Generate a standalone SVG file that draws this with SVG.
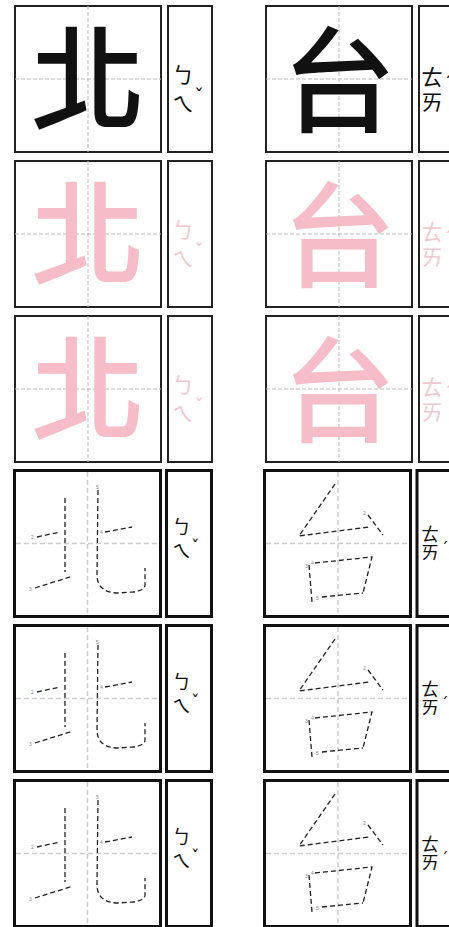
<svg xmlns="http://www.w3.org/2000/svg" xmlns:xlink="http://www.w3.org/1999/xlink" width="449" height="927" viewBox="0 0 449 927">
<style>
.bg{fill:#fff}
.box{fill:#fff;stroke:#222;stroke-width:2}
.box3{fill:#fff;stroke:#111;stroke-width:3}
.guide{stroke:#bbb;stroke-width:1;stroke-dasharray:4 2;fill:none}
.guide3{stroke:#ccc;stroke-width:1.5;stroke-dasharray:5 3;fill:none}
.han{font-family:"Noto Sans CJK TC","Noto Sans CJK SC",sans-serif;font-weight:500;font-size:114px;text-anchor:middle}
.zy{font-family:"Noto Sans CJK TC","Noto Sans CJK SC",sans-serif;font-size:22px}
.zy3{font-family:"Noto Sans CJK TC","Noto Sans CJK SC",sans-serif;font-size:19px}
.zy3t{font-family:"Noto Sans CJK TC","Noto Sans CJK SC",sans-serif;font-size:18px}
.tone{font-family:"DejaVu Sans",sans-serif;font-size:20px}
.tone3{font-family:"DejaVu Sans",sans-serif;font-size:17px}
.tone3t{font-family:"DejaVu Sans",sans-serif;font-size:15px}
.black{fill:#111}
.pink{fill:#f6bdc8}
.pinkzy{fill:#efc9d0}
.trace{fill:none;stroke:#222;stroke-width:1.3;stroke-dasharray:5 3}
.num{font-family:"Liberation Sans",sans-serif;font-size:5px;fill:#888}
</style>
<defs>
<g id="beiTrace">
<path class="trace" d="M65,27 V101"/>
<path class="trace" d="M37,66 L60,61"/>
<path class="trace" d="M35,117 L73,105"/>
<path class="trace" d="M105,61 L132,56"/>
<path class="trace" d="M98,19 L97,104 C97,116 105,122 118,122 L133,121 C142,120 145,117 145,114 L145,97"/>
<text class="num" x="31" y="68">2</text>
<text class="num" x="29" y="120">3</text>
<text class="num" x="100" y="63">4</text>
<text class="num" x="96" y="18">5</text>
</g>
<g id="taiTrace">
<path class="trace" d="M335,13 L299,65 L369,56"/>
<path class="trace" d="M368,44 L383,64"/>
<path class="trace" d="M309,94 L312,131"/>
<path class="trace" d="M315,92 L372,86 L363,122"/>
<path class="trace" d="M322,126 L363,122"/>
<text class="num" x="363" y="44">2</text>
<text class="num" x="305" y="97">3</text>
<text class="num" x="311" y="94">4</text>
<text class="num" x="316" y="129">5</text>
</g>
</defs>
<rect class="bg" x="0" y="0" width="449" height="927"/>

<g id="row1" transform="translate(0,6)">
<g id="r1-bei">
<rect class="box" x="15" y="0" width="146" height="146"/>
<path class="guide" d="M88,0 V146 M15,73 H161"/>
<text class="han black" x="88" y="115">北</text>
</g>
<g id="r1-bei-zy">
<rect class="box" x="168" y="0" width="44" height="146"/>
<text class="zy black" x="172" y="77">ㄅ</text>
<text class="zy black" x="172" y="106">ㄟ</text>
<text class="tone black" x="194" y="97">ˇ</text>
</g>
<g id="r1-tai">
<rect class="box" x="266" y="0" width="146" height="146"/>
<path class="guide" d="M339,0 V146 M266,73 H412"/>
<text class="han black" x="339" y="117">台</text>
</g>
<g id="r1-tai-zy">
<rect class="box" x="419" y="0" width="44" height="146"/>
<text class="zy black" x="421" y="79">ㄊ</text>
<text class="zy black" x="421" y="104">ㄞ</text>
<text class="tone black" x="443" y="84">ˊ</text>
</g>
</g>

<g id="row2" transform="translate(0,161)">
<g id="r2-bei">
<rect class="box" x="15" y="0" width="146" height="146"/>
<path class="guide" d="M88,0 V146 M15,73 H161"/>
<text class="han pink" x="88" y="115">北</text>
</g>
<g id="r2-bei-zy">
<rect class="box" x="168" y="0" width="44" height="146"/>
<text class="zy pinkzy" x="172" y="77">ㄅ</text>
<text class="zy pinkzy" x="172" y="106">ㄟ</text>
<text class="tone pinkzy" x="194" y="97">ˇ</text>
</g>
<g id="r2-tai">
<rect class="box" x="266" y="0" width="146" height="146"/>
<path class="guide" d="M339,0 V146 M266,73 H412"/>
<text class="han pink" x="339" y="117">台</text>
</g>
<g id="r2-tai-zy">
<rect class="box" x="419" y="0" width="44" height="146"/>
<text class="zy pinkzy" x="421" y="79">ㄊ</text>
<text class="zy pinkzy" x="421" y="104">ㄞ</text>
<text class="tone pinkzy" x="443" y="84">ˊ</text>
</g>
</g>

<g id="row3" transform="translate(0,316)">
<g id="r3-bei">
<rect class="box" x="15" y="0" width="146" height="146"/>
<path class="guide" d="M88,0 V146 M15,73 H161"/>
<text class="han pink" x="88" y="115">北</text>
</g>
<g id="r3-bei-zy">
<rect class="box" x="168" y="0" width="44" height="146"/>
<text class="zy pinkzy" x="172" y="77">ㄅ</text>
<text class="zy pinkzy" x="172" y="106">ㄟ</text>
<text class="tone pinkzy" x="194" y="97">ˇ</text>
</g>
<g id="r3-tai">
<rect class="box" x="266" y="0" width="146" height="146"/>
<path class="guide" d="M339,0 V146 M266,73 H412"/>
<text class="han pink" x="339" y="117">台</text>
</g>
<g id="r3-tai-zy">
<rect class="box" x="419" y="0" width="44" height="146"/>
<text class="zy pinkzy" x="421" y="79">ㄊ</text>
<text class="zy pinkzy" x="421" y="104">ㄞ</text>
<text class="tone pinkzy" x="443" y="84">ˊ</text>
</g>
</g>

<g id="row4" transform="translate(0,471)">
<g id="r4-bei">
<rect class="box3" x="14.5" y="-0.5" width="146" height="146"/>
<path class="guide3" d="M87.5,1 V144 M16,72.5 H159"/>
<use xlink:href="#beiTrace"/>
</g>
<g id="r4-bei-zy">
<rect class="box3" x="166.5" y="-0.5" width="45" height="146"/>
<text class="zy3 black" x="172" y="63">ㄅ</text>
<text class="zy3 black" x="172" y="87">ㄟ</text>
<text class="tone3 black" x="191" y="82">ˇ</text>
</g>
<g id="r4-tai">
<rect class="box3" x="264.5" y="-0.5" width="146" height="146"/>
<path class="guide3" d="M338,1 V144 M266,72.5 H409"/>
<use xlink:href="#taiTrace"/>
</g>
<g id="r4-tai-zy">
<rect class="box3" x="417" y="-0.5" width="45" height="146"/>
<text class="zy3t black" x="421" y="70">ㄊ</text>
<text class="zy3t black" x="421" y="88">ㄞ</text>
<text class="tone3t black" x="441" y="83">ˊ</text>
</g>
</g>

<g id="row5" transform="translate(0,626)">
<g id="r5-bei">
<rect class="box3" x="14.5" y="-0.5" width="146" height="146"/>
<path class="guide3" d="M87.5,1 V144 M16,72.5 H159"/>
<use xlink:href="#beiTrace"/>
</g>
<g id="r5-bei-zy">
<rect class="box3" x="166.5" y="-0.5" width="45" height="146"/>
<text class="zy3 black" x="172" y="63">ㄅ</text>
<text class="zy3 black" x="172" y="87">ㄟ</text>
<text class="tone3 black" x="191" y="82">ˇ</text>
</g>
<g id="r5-tai">
<rect class="box3" x="264.5" y="-0.5" width="146" height="146"/>
<path class="guide3" d="M338,1 V144 M266,72.5 H409"/>
<use xlink:href="#taiTrace"/>
</g>
<g id="r5-tai-zy">
<rect class="box3" x="417" y="-0.5" width="45" height="146"/>
<text class="zy3t black" x="421" y="70">ㄊ</text>
<text class="zy3t black" x="421" y="88">ㄞ</text>
<text class="tone3t black" x="441" y="83">ˊ</text>
</g>
</g>

<g id="row6" transform="translate(0,781)">
<g id="r6-bei">
<rect class="box3" x="14.5" y="-0.5" width="146" height="146"/>
<path class="guide3" d="M87.5,1 V144 M16,72.5 H159"/>
<use xlink:href="#beiTrace"/>
</g>
<g id="r6-bei-zy">
<rect class="box3" x="166.5" y="-0.5" width="45" height="146"/>
<text class="zy3 black" x="172" y="63">ㄅ</text>
<text class="zy3 black" x="172" y="87">ㄟ</text>
<text class="tone3 black" x="191" y="82">ˇ</text>
</g>
<g id="r6-tai">
<rect class="box3" x="264.5" y="-0.5" width="146" height="146"/>
<path class="guide3" d="M338,1 V144 M266,72.5 H409"/>
<use xlink:href="#taiTrace"/>
</g>
<g id="r6-tai-zy">
<rect class="box3" x="417" y="-0.5" width="45" height="146"/>
<text class="zy3t black" x="421" y="70">ㄊ</text>
<text class="zy3t black" x="421" y="88">ㄞ</text>
<text class="tone3t black" x="441" y="83">ˊ</text>
</g>
</g>
</svg>
